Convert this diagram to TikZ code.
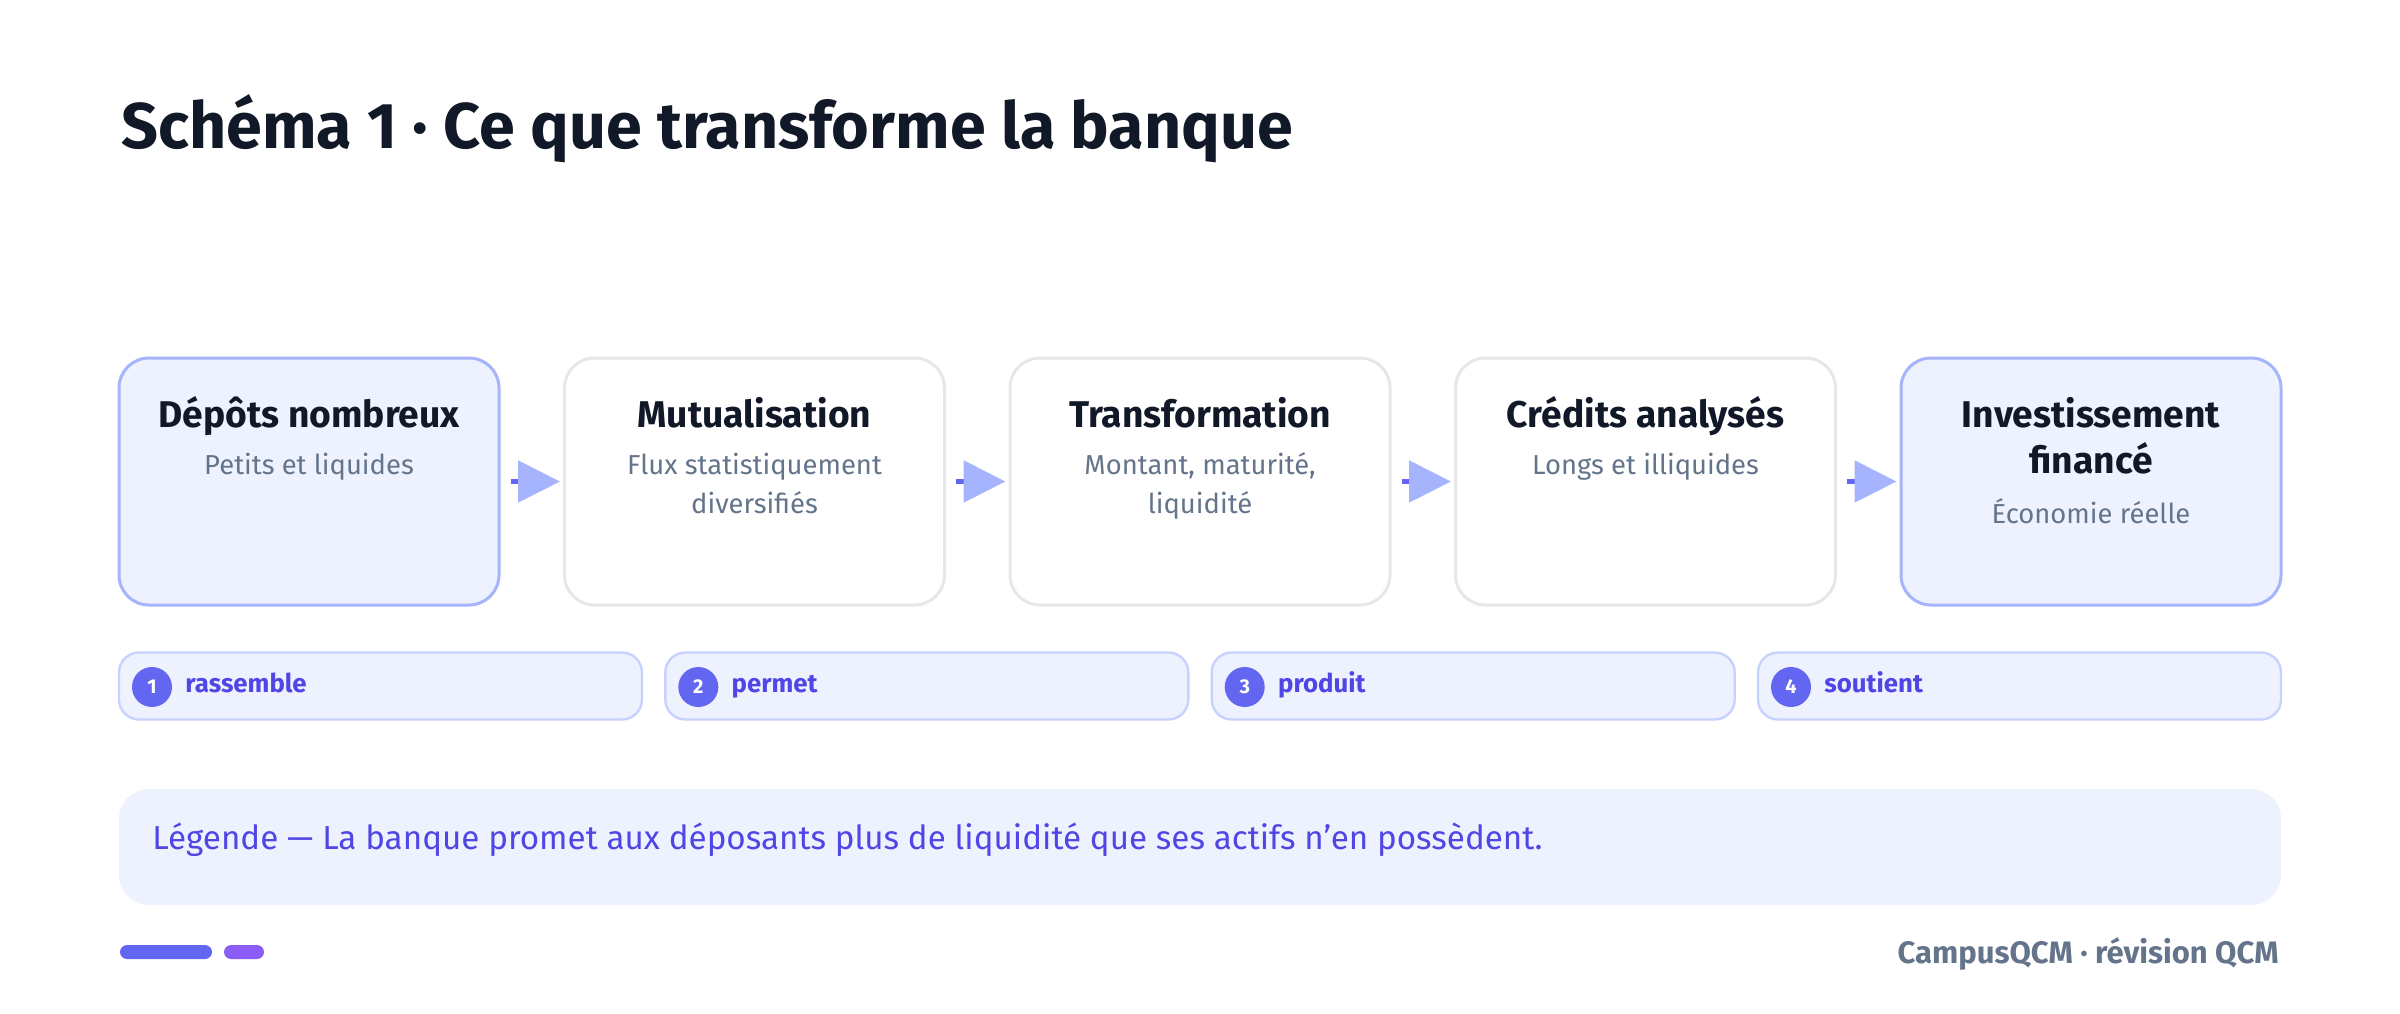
\documentclass[tikz,border=0pt]{standalone}
\usepackage{fontspec}
\setmainfont{Fira Sans}
\usetikzlibrary{arrows.meta}
\definecolor{ink}{HTML}{111827}
\definecolor{slate}{HTML}{64748B}
\definecolor{indfill}{HTML}{EEF2FF}
\definecolor{indline}{HTML}{A5B4FC}
\definecolor{grayline}{HTML}{E5E7EB}
\definecolor{pillline}{HTML}{C7D2FE}
\definecolor{indigo}{HTML}{6366F1}
\definecolor{indtext}{HTML}{4F46E5}
\definecolor{legtext}{HTML}{4F46E5}
\definecolor{violet}{HTML}{8B5CF6}
\tikzset{
  stepbox/.style={rectangle, rounded corners=15pt, minimum width=190pt, minimum height=123.5pt, line width=1.5pt, inner sep=0pt},
  keybox/.style={stepbox, fill=indfill, draw=indline},
  plainbox/.style={stepbox, fill=white, draw=grayline},
  boxtitle/.style={anchor=base, text=ink, font=\fontsize{18.6}{22}\selectfont\bfseries, inner sep=0pt},
  boxsub/.style={anchor=base, text=slate, font=\fontsize{13.7}{16}\selectfont, inner sep=0pt},
  pill/.style={rectangle, rounded corners=10pt, minimum width=261.5pt, minimum height=33.5pt, line width=1.2pt, fill=indfill, draw=pillline, inner sep=0pt},
  numdot/.style={circle, fill=indigo, minimum size=20pt, inner sep=0pt, text=white, font=\fontsize{10}{10}\selectfont\bfseries},
  pilltext/.style={anchor=base west, text=indtext, font=\fontsize{12.9}{15}\selectfont\bfseries, inner sep=0pt},
  flow/.style={line width=2.7pt, draw=indigo, -{Triangle[length=21pt, width=20.5pt, color=indline]}},
}
\begin{document}
\begin{tikzpicture}[x=0.5pt, y=-0.5pt]
\useasboundingbox (0,0) rectangle (2400,1013);
\fill[white] (0,0) rectangle (2400,1013);

% title
\node[anchor=base west, inner sep=0pt, text=ink, font=\fontsize{32.3}{38}\selectfont\bfseries] (title) at (121,148) {Schéma 1 · Ce que transforme la banque};

% boxes
\node[keybox]   (b1) at (309,481.5) {};
\node[plainbox] (b2) at (754.5,481.5) {};
\node[plainbox] (b3) at (1200,481.5) {};
\node[plainbox] (b4) at (1645.5,481.5) {};
\node[keybox]   (b5) at (2091,481.5) {};

\node[boxtitle] (t1) at (309,427) {Dépôts nombreux};
\node[boxsub]   (s1) at (309,474) {Petits et liquides};

\node[boxtitle] (t2) at (754.5,427) {Mutualisation};
\node[boxsub]   (s2a) at (754.5,474) {Flux statistiquement};
\node[boxsub]   (s2b) at (754.5,513) {diversifiés};

\node[boxtitle] (t3) at (1200,427) {Transformation};
\node[boxsub]   (s3a) at (1200,474) {Montant, maturité,};
\node[boxsub]   (s3b) at (1200,513) {liquidité};

\node[boxtitle] (t4) at (1645.5,427) {Crédits analysés};
\node[boxsub]   (s4) at (1645.5,474) {Longs et illiquides};

\node[boxtitle] (t5a) at (2091,427) {Investissement};
\node[boxtitle] (t5b) at (2091,473) {financé};
\node[boxsub]   (s5) at (2091,523) {Économie réelle};

% connectors
\draw[flow] ([xshift=5pt]b1.east) -- ([xshift=-1.5pt]b2.west);
\draw[flow] ([xshift=5pt]b2.east) -- ([xshift=-1.5pt]b3.west);
\draw[flow] ([xshift=5pt]b3.east) -- ([xshift=-1.5pt]b4.west);
\draw[flow] ([xshift=5pt]b4.east) -- ([xshift=-1.5pt]b5.west);

% pills
\node[pill] (p1) at (380.5,686) {};
\node[pill] (p2) at (926.8,686) {};
\node[pill] (p3) at (1473.2,686) {};
\node[pill] (p4) at (2019.5,686) {};

\node[numdot] (n1) at (152,687) {1};
\node[numdot] (n2) at (698.3,687) {2};
\node[numdot] (n3) at (1244.7,687) {3};
\node[numdot] (n4) at (1791,687) {4};

\node[pilltext] (l1) at (185,692) {rassemble};
\node[pilltext] (l2) at (731.3,692) {permet};
\node[pilltext] (l3) at (1277.7,692) {produit};
\node[pilltext] (l4) at (1824,692) {soutient};

% legend
\fill[indfill, rounded corners=15pt] (119,789) rectangle (2281,905);
\node[anchor=base west, inner sep=0pt, text=legtext, font=\fontsize{16.6}{19}\selectfont] (leg) at (152,849) {Légende — La banque promet aux déposants plus de liquidité que ses actifs n'en possèdent.};

% footer
\fill[indigo, rounded corners=3.5pt] (120,945) rectangle (212,959);
\fill[violet, rounded corners=3.5pt] (224,945) rectangle (264,959);
\node[anchor=base east, inner sep=0pt, text=slate, font=\fontsize{15.5}{18}\selectfont\bfseries] (foot) at (2279,963) {CampusQCM · révision QCM};
\end{tikzpicture}
\end{document}
